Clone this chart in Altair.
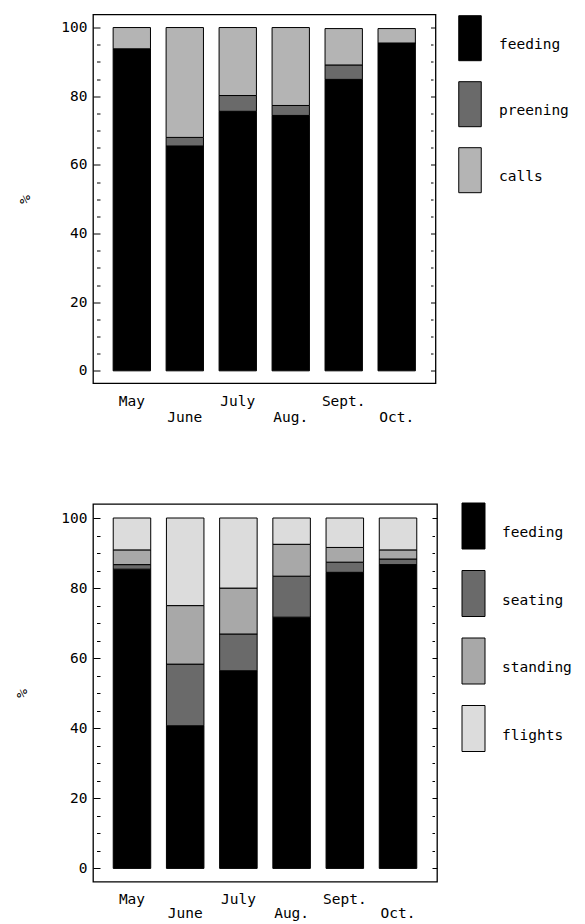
import altair as alt
import pandas as pd

months = ["May", "June", "July", "Aug.", "Sept.", "Oct."]

# Upper panel
cats1 = ["feeding", "preening", "calls"]
feeding1 = [93.8, 65.5, 75.6, 74.4, 84.9, 95.5]
preening1 = [0.0, 2.5, 4.6, 2.9, 4.2, 0.0]
calls1 = [6.2, 32.0, 19.8, 22.7, 10.6, 4.2]
colors1 = ["#000000", "#6a6a6a", "#b4b4b4"]

# Lower panel
cats2 = ["feeding", "seating", "standing", "flights"]
feeding2 = [85.4, 40.7, 56.4, 71.7, 84.5, 86.7]
seating2 = [1.3, 17.6, 10.5, 11.7, 2.9, 1.6]
standing2 = [4.2, 16.7, 13.1, 9.1, 4.2, 2.6]
flights2 = [9.1, 25.0, 20.0, 7.5, 8.4, 9.1]
colors2 = ["#000000", "#6a6a6a", "#a8a8a8", "#dcdcdc"]

FONT = "DejaVu Sans Mono"
FS = 14.5
SYMBOL = "M-0.5,-1L0.5,-1L0.5,1L-0.5,1Z"


def make_df(cats, series):
    rows = []
    for ci, (c, vals) in enumerate(zip(cats, series)):
        for m, v in zip(months, vals):
            rows.append({"month": m, "activity": c, "value": v, "idx": ci})
    return pd.DataFrame(rows)


def panel(df, cats, colors, width, height, ydom, lx, ly, lsize, loff, lrow, tpad, lowpad):
    xenc = alt.X(
        "month:N",
        sort=months,
        scale=alt.Scale(paddingInner=0.295, paddingOuter=0.38),
        axis=alt.Axis(
            title=None, labelAngle=0, ticks=False, domain=False,
            labelFont=FONT, labelFontSize=FS, labelColor="black",
            labelBaseline="top",
            labelPadding=alt.condition(
                "indexof(['June','Aug.','Oct.'], datum.value) >= 0",
                alt.value(lowpad), alt.value(11)),
        ),
    )
    bars = alt.Chart(df).mark_bar(stroke="black", strokeWidth=1).encode(
        x=xenc,
        y=alt.Y(
            "value:Q", stack="zero",
            scale=alt.Scale(domain=ydom, nice=False, zero=False),
            axis=alt.Axis(
                title="%", titleFont=FONT, titleFontSize=FS, titleFontWeight="normal",
                titleColor="black", titlePadding=tpad,
                values=list(range(0, 101, 5)),
                labelExpr="datum.value % 20 === 0 ? datum.label : ''",
                labelOverlap=False, labelFlush=False,
                labelFont=FONT, labelFontSize=FS, labelColor="black",
                labelPadding=6,
                tickSize=alt.condition("datum.value % 20 === 0", alt.value(7), alt.value(3.5)),
                tickColor="black", offset=-7, domain=False, grid=False,
            ),
        ),
        color=alt.Color(
            "activity:N",
            scale=alt.Scale(domain=cats, range=colors),
            legend=alt.Legend(
                orient="none", legendX=lx, legendY=ly, title=None, padding=0,
                symbolType=SYMBOL, symbolSize=lsize, symbolStrokeColor="black",
                symbolStrokeWidth=1, symbolOpacity=1,
                labelFont=FONT, labelFontSize=FS, labelColor="black",
                labelBaseline="top", labelOffset=loff, rowPadding=lrow,
            ),
        ),
        order=alt.Order("idx:Q", sort="ascending"),
    )
    right = alt.Chart(df).mark_bar(opacity=0).encode(
        x=xenc,
        y=alt.Y(
            "value:Q",
            scale=alt.Scale(domain=ydom, nice=False, zero=False),
            axis=alt.Axis(
                orient="right", title=None, values=list(range(0, 101, 5)),
                labels=False, domain=False, grid=False, offset=-5,
                tickSize=alt.condition("datum.value % 20 === 0", alt.value(5), alt.value(2.5)),
                tickColor="black",
            ),
        ),
    )
    return alt.layer(bars, right).resolve_scale(y="independent").properties(
        width=width, height=height
    )


df1 = make_df(cats1, [feeding1, preening1, calls1])
df2 = make_df(cats2, [feeding2, seating2, standing2, flights2])

top = panel(df1, cats1, colors1, 342.5, 368.7, [-3.6, 103.8],
            354, 0.7, 2025, 6, 16, 28.5, 27)
bottom = panel(df2, cats2, colors2, 344, 377.7, [-3.8, 104.0],
               357, -1.5, 2116, 5, 16.5, 31, 25)

chart = alt.vconcat(top, bottom, spacing=76.5).resolve_scale(
    color="independent"
).properties(
    padding={"left": 6, "top": 5.5, "right": 0, "bottom": 0},
    background="white",
).configure_view(
    stroke="black", strokeWidth=1.3
)

chart.save("out.html", embed_options={"renderer": "svg", "actions": False})
